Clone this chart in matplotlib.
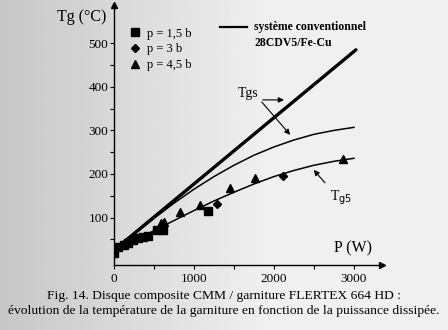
import numpy as np
import matplotlib
matplotlib.use("Agg")
import matplotlib.pyplot as plt
from matplotlib.lines import Line2D

plt.rcParams['font.family'] = ['Liberation Serif', 'DejaVu Serif']

# measured points, P (W) vs Tg (deg C)
p15_x = [0, 50, 120, 180, 240, 300, 360, 420, 540, 610, 1175]
p15_y = [18, 32, 36, 42, 48, 52, 56, 58, 71, 72, 115]
p3_x = [150, 330, 1285, 2115]
p3_y = [40, 55, 131, 196]
p45_x = [590, 625, 825, 1075, 1450, 1760, 2865]
p45_y = [87, 90, 113, 129, 168, 190, 234]

# conventional system 28CDV5/Fe-Cu
conv_x = [0, 3025]
conv_y = [25, 485]

# fitted curves Tgs and Tg5
curve_x = [0, 250, 500, 750, 1000, 1250, 1500, 1750, 2000, 2250, 2500, 2750, 3000]
tgs_y = [22, 61, 98, 133, 165, 194, 220, 243, 262, 278, 291, 300, 307]
tg5_y = [22, 46, 70, 93, 116, 138, 158, 177, 194, 208, 220, 229, 236]

fig = plt.figure(figsize=(4.48, 3.30), dpi=100)
fig.patch.set_facecolor('#efefef')

# scanned-page shading, darker on the left edge
bg = fig.add_axes([0, 0, 1, 1], zorder=-10)
grad = np.clip(np.linspace(0.78, 1.05, 200), 0, 0.94)
bg.imshow(np.tile(grad, (10, 1)), cmap='gray', vmin=0, vmax=1, aspect='auto',
          extent=[0, 1, 0, 1])
bg.axis('off')

ax = fig.add_axes([0.2545, 0.197, 0.598, 0.788])
ax.patch.set_alpha(0)
ax.set_xlim(0, 3350)
ax.set_ylim(-9, 588)

ax.plot(conv_x, conv_y, '-k', lw=2.4, solid_capstyle='round')
ax.plot(curve_x, tgs_y, '-k', lw=1.1)
ax.plot(curve_x, tg5_y, '-k', lw=1.1)

ax.plot(p15_x, p15_y, 's', color='k', ms=6, ls='none', label='p = 1,5 b')
ax.plot(p3_x, p3_y, 'D', color='k', ms=4.5, ls='none', label='p = 3 b')
ax.plot(p45_x, p45_y, '^', color='k', ms=6, ls='none', label='p = 4,5 b')

for s in ['top', 'right']:
    ax.spines[s].set_visible(False)
ax.spines['left'].set_linewidth(1.0)
ax.spines['bottom'].set_linewidth(1.0)
ax.plot(1, 0, '>k', ms=5, transform=ax.transAxes, clip_on=False)
ax.plot(0, 1, '^k', ms=5, transform=ax.transAxes, clip_on=False)

ax.set_xticks([0, 1000, 2000, 3000])
ax.set_xticks([500, 1500, 2500], minor=True)
ax.set_yticks([100, 200, 300, 400, 500])
ax.set_yticks([50, 150, 250, 350, 450], minor=True)
ax.tick_params(which='both', direction='out', length=3, width=0.8, labelsize=9.5)
ax.tick_params(axis='x', pad=3)
ax.tick_params(axis='y', pad=1)

fig.text(57 / 448, 1 - 17 / 330, 'Tg (°C)', fontsize=11.5, va='center', ha='left')
fig.text(334 / 448, 1 - 248 / 330, 'P (W)', fontsize=11.5, va='center', ha='left')

ax.legend(loc='upper left', bbox_to_anchor=(0.035, 0.937), frameon=False,
          fontsize=9, handlelength=0.8, handletextpad=0.6,
          labelspacing=0.3, borderpad=0)

# conventional system key
fig.add_artist(Line2D([220 / 448, 247 / 448], [1 - 27 / 330, 1 - 27 / 330],
                      color='k', lw=1.6))
fig.text(254 / 448, 1 - 27 / 330, 'système conventionnel', fontsize=8.5,
         weight='bold', va='center', ha='left')
fig.text(254 / 448, 1 - 43 / 330, '28CDV5/Fe-Cu', fontsize=8.5,
         weight='bold', va='center', ha='left')

# curve labels with leader arrows
ax.text(1675, 384, 'Tgs', fontsize=10, ha='center', va='center')
ax.annotate('', xy=(2160, 370), xytext=(1825, 370),
            arrowprops=dict(arrowstyle='-|>', color='k', lw=0.8, mutation_scale=8))
ax.annotate('', xy=(2225, 285), xytext=(1825, 370),
            arrowprops=dict(arrowstyle='-|>', color='k', lw=0.8, mutation_scale=8))
ax.text(2840, 145, r'T$_{\mathrm{g5}}$', fontsize=10, ha='center', va='center')
ax.annotate('', xy=(2475, 214), xytext=(2660, 175),
            arrowprops=dict(arrowstyle='-|>', color='k', lw=0.8, mutation_scale=8))

fig.text(0.5, 1 - 296 / 330,
         'Fig. 14. Disque composite CMM / garniture FLERTEX 664 HD :',
         ha='center', va='center', fontsize=9.7)
fig.text(0.5, 1 - 311 / 330,
         'évolution de la température de la garniture en fonction de la puissance dissipée.',
         ha='center', va='center', fontsize=9.7)

fig.savefig('out.png', dpi=100, facecolor=fig.get_facecolor())
